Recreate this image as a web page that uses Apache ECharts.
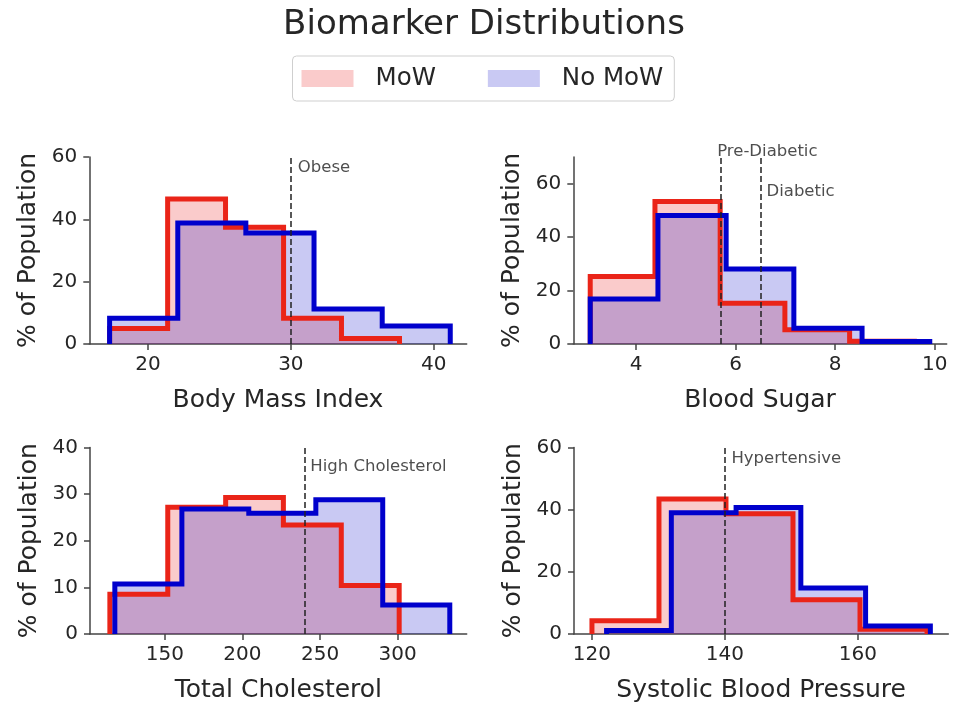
<!DOCTYPE html>
<html><head><meta charset="utf-8">
<script src="https://cdn.jsdelivr.net/npm/echarts@6/dist/echarts.min.js"></script>
<style>html,body{margin:0;padding:0;background:#fff}#c{width:961px;height:703px}</style>
</head><body><div id="c"></div>
<script>
// ---------- data ----------
const groupNames = ['MoW', 'No MoW'];
const chartTitle = 'Biomarker Distributions';
const yLabel = '% of Population';
const xLabels = ['Body Mass Index', 'Blood Sugar', 'Total Cholesterol', 'Systolic Blood Pressure'];

// Body Mass Index histograms (bin edges, % of population per bin)
const bmiMowEdges = [17.32, 21.38, 25.43, 29.49, 33.54, 37.6];
const bmiMowPct = [5.0, 46.5, 37.5, 8.3, 1.8];
const bmiNoMowEdges = [17.32, 22.09, 26.85, 31.62, 36.39, 41.15];
const bmiNoMowPct = [8.3, 38.8, 35.6, 11.2, 5.8];

// Blood Sugar
const sugarMowEdges = [3.08, 4.38, 5.69, 6.99, 8.29, 9.59];
const sugarMowPct = [25.3, 53.3, 15.3, 5.3, 1.0];
const sugarNoMowEdges = [3.08, 4.44, 5.81, 7.17, 8.54, 9.9];
const sugarNoMowPct = [16.8, 48.1, 28.1, 5.9, 0.9];

// Total Cholesterol
const cholMowEdges = [114.6, 151.9, 189.2, 226.4, 263.7, 301.0];
const cholMowPct = [8.5, 27.2, 29.3, 23.4, 10.4];
const cholNoMowEdges = [117.8, 161.0, 204.1, 247.3, 290.4, 333.6];
const cholNoMowPct = [10.7, 26.8, 25.9, 28.8, 6.2];

// Systolic Blood Pressure
const sbpMowEdges = [120.0, 130.08, 140.16, 150.24, 160.32, 170.4];
const sbpMowPct = [4.3, 43.4, 38.7, 11.0, 1.5];
const sbpNoMowEdges = [122.2, 131.94, 141.68, 151.42, 161.16, 170.9];
const sbpNoMowPct = [1.1, 39.0, 40.7, 14.8, 2.6];

// axes
const xRanges = [[15.9, 42.3], [2.74, 10.24], [101.8, 344.5], [117.3, 173.6]];
const xTicks = [[20, 30, 40], [4, 6, 8, 10], [150, 200, 250, 300], [120, 140, 160]];
const yMaxes = [60, 70, 40, 60];
const yTicks = [[0, 20, 40, 60], [0, 20, 40, 60], [0, 10, 20, 30, 40], [0, 20, 40, 60]];

// clinical thresholds and their annotations (anchor in data units)
const thresholds = [[30], [5.7, 6.5], [240], [140]];
const thresholdNames = [['Obese'], ['Pre-Diabetic', 'Diabetic'], ['High Cholesterol'], ['Hypertensive']];
const thresholdAnchors = [[[30.45, 56.5]], [[5.62, 71.8], [6.61, 57.0]], [[243.4, 35.8]], [[140.9, 56.5]]];

// ---------- chart ----------
const mowData = [[bmiMowEdges, bmiMowPct], [sugarMowEdges, sugarMowPct], [cholMowEdges, cholMowPct], [sbpMowEdges, sbpMowPct]];
const noMowData = [[bmiNoMowEdges, bmiNoMowPct], [sugarNoMowEdges, sugarNoMowPct], [cholNoMowEdges, cholNoMowPct], [sbpNoMowEdges, sbpNoMowPct]];

const RED = '#ea2418', BLUE = '#0000cc';
const RED_FILL = 'rgba(232,20,20,0.22)', BLUE_FILL = 'rgba(10,10,200,0.22)';
const FONT = 'DejaVu Sans';
const TXT = '#262626', AX = '#444';

function stepPoints(edges, pct) {
  const pts = [[edges[0], 0]];
  for (let i = 0; i < pct.length; i++) pts.push([edges[i], pct[i]]);
  pts.push([edges[pct.length], pct[pct.length - 1]]);
  pts.push([edges[pct.length], 0]);
  return pts;
}

const grids = [
  {left: 89.3, top: 157, width: 377.4, height: 187},
  {left: 573.3, top: 157, width: 373.4, height: 187},
  {left: 90, top: 447.5, width: 376.7, height: 186.5},
  {left: 574, top: 447.5, width: 374.3, height: 186.5}
].map(g => Object.assign({containLabel: false, outerBoundsMode: 'none'}, g));

const xAxes = [], yAxes = [], series = [];
for (let i = 0; i < 4; i++) {
  xAxes.push({
    type: 'value', gridIndex: i, min: xRanges[i][0], max: xRanges[i][1],
    name: xLabels[i], nameLocation: 'middle', nameGap: 44,
    nameTextStyle: {fontSize: 25, color: TXT, fontFamily: FONT},
    axisLine: {show: true, onZero: false, lineStyle: {color: AX, width: 1.5}},
    axisTick: {show: true, length: 6, lineStyle: {color: AX, width: 1.5}, customValues: xTicks[i]},
    axisLabel: {fontSize: 20, color: TXT, margin: 11, fontFamily: FONT, customValues: xTicks[i]},
    splitLine: {show: false}
  });
  yAxes.push({
    type: 'value', gridIndex: i, min: 0, max: yMaxes[i],
    name: yLabel, nameLocation: 'middle', nameGap: 48, nameRotate: 90,
    nameTextStyle: {fontSize: 25, color: TXT, fontFamily: FONT},
    axisLine: {show: true, onZero: false, lineStyle: {color: AX, width: 1.5}},
    axisTick: {show: true, length: 6, lineStyle: {color: AX, width: 1.5}, customValues: yTicks[i]},
    axisLabel: {fontSize: 20, color: TXT, margin: 12, fontFamily: FONT, customValues: yTicks[i]},
    splitLine: {show: false}
  });
  const groups = [[mowData[i], RED, RED_FILL, groupNames[0]], [noMowData[i], BLUE, BLUE_FILL, groupNames[1]]];
  // filled areas first
  groups.forEach(([d, c, f, nm]) => {
    series.push({
      type: 'line', name: nm, xAxisIndex: i, yAxisIndex: i,
      data: stepPoints(d[0], d[1]), step: 'end', symbol: 'none', silent: true,
      lineStyle: {width: 0, opacity: 0},
      itemStyle: {color: c},
      areaStyle: {color: f, opacity: 1},
      z: 1
    });
  });
  // step outlines on top of both fills
  groups.forEach(([d, c, f, nm], k) => {
    series.push({
      type: 'line', name: nm, xAxisIndex: i, yAxisIndex: i,
      data: stepPoints(d[0], d[1]), step: 'end', symbol: 'none', silent: true,
      lineStyle: {color: c, width: 5, join: 'miter', cap: 'butt'},
      itemStyle: {color: c},
      z: 2 + k
    });
  });
  series.push({
    type: 'scatter', xAxisIndex: i, yAxisIndex: i, silent: true, clip: false,
    symbolSize: 1, itemStyle: {color: 'rgba(0,0,0,0)'}, z: 6,
    data: thresholdNames[i].map((n, j) => ({name: n, value: thresholdAnchors[i][j]})),
    label: {show: true, position: 'right', distance: 0, formatter: p => p.name,
      fontSize: 16.5, color: '#222', fontFamily: FONT},
    markLine: {
      silent: true, symbol: ['none', 'none'], label: {show: false},
      lineStyle: {type: [6, 3], color: '#222', width: 1.5},
      data: thresholds[i].map(v => ({xAxis: v}))
    }
  });
}

const chart = echarts.init(document.getElementById('c'), null, {renderer: 'canvas'});
chart.setOption({
  animation: false,
  backgroundColor: '#fff',
  textStyle: {fontFamily: FONT},
  title: {text: chartTitle, left: 484, top: 8, textAlign: 'center', padding: 0,
    textStyle: {fontSize: 34, fontWeight: 'normal', color: TXT, fontFamily: FONT}},
  legend: {
    data: [
      {name: groupNames[0], itemStyle: {color: RED_FILL, borderWidth: 0}},
      {name: groupNames[1], itemStyle: {color: BLUE_FILL, borderWidth: 0}}
    ],
    icon: 'rect', itemWidth: 52, itemHeight: 17, itemGap: 52,
    left: 292.5, top: 56, padding: [10, 11, 10, 9],
    borderColor: '#cfcfcf', borderWidth: 1, borderRadius: 4,
    selectedMode: false,
    textStyle: {fontSize: 24.5, color: TXT, fontFamily: FONT, padding: [0, 0, 0, 17]}
  },
  grid: grids, xAxis: xAxes, yAxis: yAxes, series: series
});
</script></body></html>
